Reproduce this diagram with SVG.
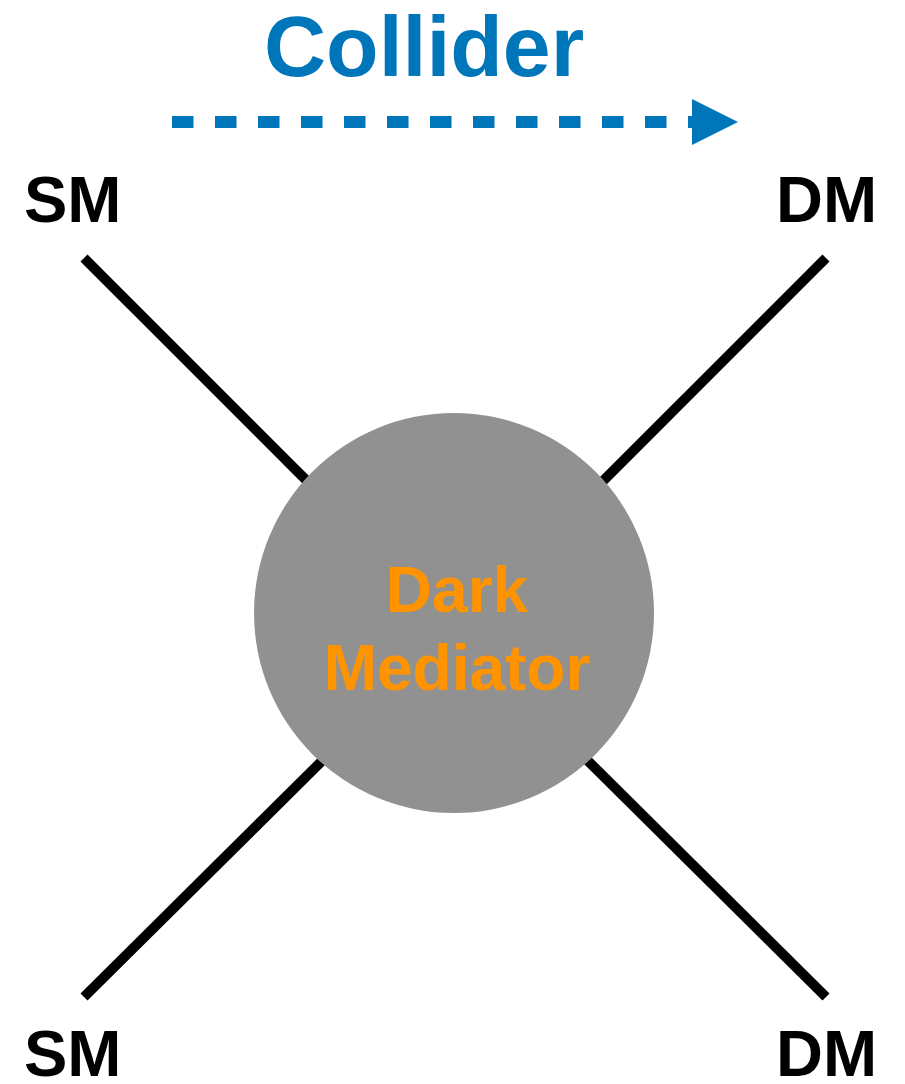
<svg xmlns="http://www.w3.org/2000/svg" width="905" height="1084" viewBox="0 0 905 1084">
  <style>
    .lbl { font-family: "Liberation Sans", Arial, sans-serif; font-weight: bold; }
    .particle { font-size: 65px; fill: #000000; }
    .leg { stroke: #000000; stroke-width: 10; fill: none; }
    .mediator-text { font-size: 64px; fill: #FF9300; text-anchor: middle; }
  </style>
  <defs>
    <marker id="arrowHead" markerUnits="userSpaceOnUse" viewBox="0 0 46 46" refX="0" refY="23" markerWidth="46" markerHeight="46" orient="auto">
      <path d="M0,0 L46,23 L0,46 Z" fill="#0076BA"/>
    </marker>
  </defs>

  <!-- title and direction arrow -->
  <g id="collider">
    <text class="lbl" x="264" y="76" font-size="86" fill="#0076BA">Collider</text>
    <line x1="172" y1="122" x2="692" y2="122" stroke="#0076BA" stroke-width="12" stroke-dasharray="21.5 21.5" marker-end="url(#arrowHead)"/>
  </g>

  <!-- particle legs -->
  <g id="connectors">
    <line class="leg" x1="84" y1="258" x2="455" y2="629"/>
    <line class="leg" x1="826" y1="258" x2="455" y2="629"/>
    <line class="leg" x1="84" y1="997" x2="455" y2="629"/>
    <line class="leg" x1="826" y1="997" x2="455" y2="629"/>
  </g>

  <g id="sm-in-top"><text class="lbl particle" x="24" y="222">SM</text></g>
  <g id="dm-out-top"><text class="lbl particle" x="776" y="222">DM</text></g>
  <g id="sm-in-bottom"><text class="lbl particle" x="24" y="1076">SM</text></g>
  <g id="dm-out-bottom"><text class="lbl particle" x="776" y="1076">DM</text></g>

  <!-- central blob -->
  <g id="mediator">
    <circle cx="454" cy="613" r="200" fill="#919191"/>
    <text class="lbl mediator-text" x="457" y="612">Dark</text>
    <text class="lbl mediator-text" x="457" y="690">Mediator</text>
  </g>
</svg>
